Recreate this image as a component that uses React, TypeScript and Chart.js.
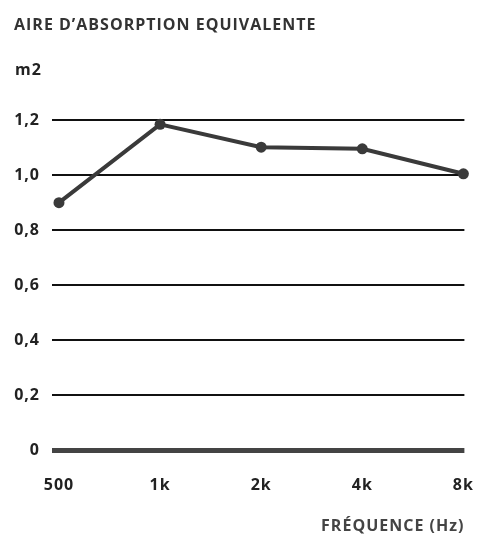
import React, { useEffect, useRef } from "react";
import { Chart, registerables } from "chart.js";

Chart.register(...registerables);

const frequencies = ["500", "1k", "2k", "4k", "8k"];
const absorption = [0.9, 1.185, 1.102, 1.096, 1.005];
const yTickLabels = ["0", "0,2", "0,4", "0,6", "0,8", "1,0", "1,2"];
const titleText = "AIRE D\u2019ABSORPTION EQUIVALENTE";
const unitText = "m2";
const xTitleText = "FR\u00c9QUENCE (Hz)";

const FONT = "'Open Sans', Lato, sans-serif";

const spacingPlugin = {
  id: "letterSpacing",
  beforeInit(chart: any) {
    chart.ctx.letterSpacing = "1px";
  },
  beforeUpdate(chart: any) {
    chart.ctx.letterSpacing = "1px";
  },
  beforeDraw(chart: any) {
    chart.ctx.letterSpacing = "1px";
  },
};

const unitPlugin = {
  id: "unitLabel",
  afterDraw(chart: any) {
    const { ctx, chartArea } = chart;
    ctx.save();
    ctx.font = `700 16px ${FONT}`;
    ctx.fillStyle = "#222";
    ctx.textAlign = "left";
    ctx.textBaseline = "alphabetic";
    ctx.fillText(unitText, chartArea.left - 37, chartArea.top - 45);
    ctx.restore();
  },
};

export default function App() {
  const ref = useRef<HTMLCanvasElement | null>(null);
  useEffect(() => {
    if (!ref.current) return;
    const chart = new Chart(ref.current, {
      type: "line",
      data: {
        datasets: [
          {
            data: absorption.map((v, i) => ({ x: i, y: v })),
            borderColor: "#3a3a3a",
            backgroundColor: "#3a3a3a",
            borderWidth: 4,
            pointRadius: 5.5,
            pointBackgroundColor: "#3a3a3a",
            pointBorderWidth: 0,
            tension: 0,
            clip: false as any,
          },
        ],
      },
      plugins: [spacingPlugin, unitPlugin],
      options: {
        animation: false,
        responsive: true,
        maintainAspectRatio: false,
        layout: { padding: { left: 14, right: 32, top: 0, bottom: 7 } },
        plugins: {
          legend: { display: false },
          tooltip: { enabled: false },
          title: {
            display: true,
            text: titleText,
            align: "start",
            color: "#333",
            font: { family: FONT, size: 16, weight: "bold" },
            padding: { top: 16, bottom: 85 },
          },
        },
        scales: {
          x: {
            type: "linear",
            min: -0.069,
            max: 4.01,
            afterBuildTicks: (scale: any) => {
              scale.ticks = frequencies.map((_, i) => ({ value: i }));
            },
            afterFit: (scale: any) => {
              scale.height = 86;
            },
            grid: { display: false, drawTicks: false },
            border: { display: false },
            ticks: {
              padding: 26,
              color: "#222",
              font: { family: FONT, size: 16, weight: "bold" },
              callback: (v: any) => frequencies[Math.round(Number(v))] ?? "",
              maxRotation: 0,
              autoSkip: false,
            },
            title: {
              display: true,
              text: xTitleText,
              align: "end",
              color: "#444",
              font: { family: FONT, size: 16, weight: "bold" },
              padding: { top: 22, bottom: 0 },
            },
          },
          y: {
            min: 0,
            max: 1.2,
            afterFit: (scale: any) => {
              scale.width = 38;
            },
            grid: {
              drawTicks: false,
              color: (c: any) => (c.tick && c.tick.value === 0 ? "#444" : "#111"),
              lineWidth: (c: any) => (c.tick && c.tick.value === 0 ? 5 : 2),
            },
            border: { display: false },
            ticks: {
              stepSize: 0.2,
              padding: 12,
              color: "#222",
              font: { family: FONT, size: 16, weight: "bold" },
              callback: (_v: any, i: number) => yTickLabels[i] ?? "",
            },
          },
        },
      },
    });
    return () => chart.destroy();
  }, []);
  return (
    <div style={{ position: "absolute", left: 0, top: 0, width: 500, height: 543, background: "#fff" }}>
      <canvas ref={ref} />
    </div>
  );
}
